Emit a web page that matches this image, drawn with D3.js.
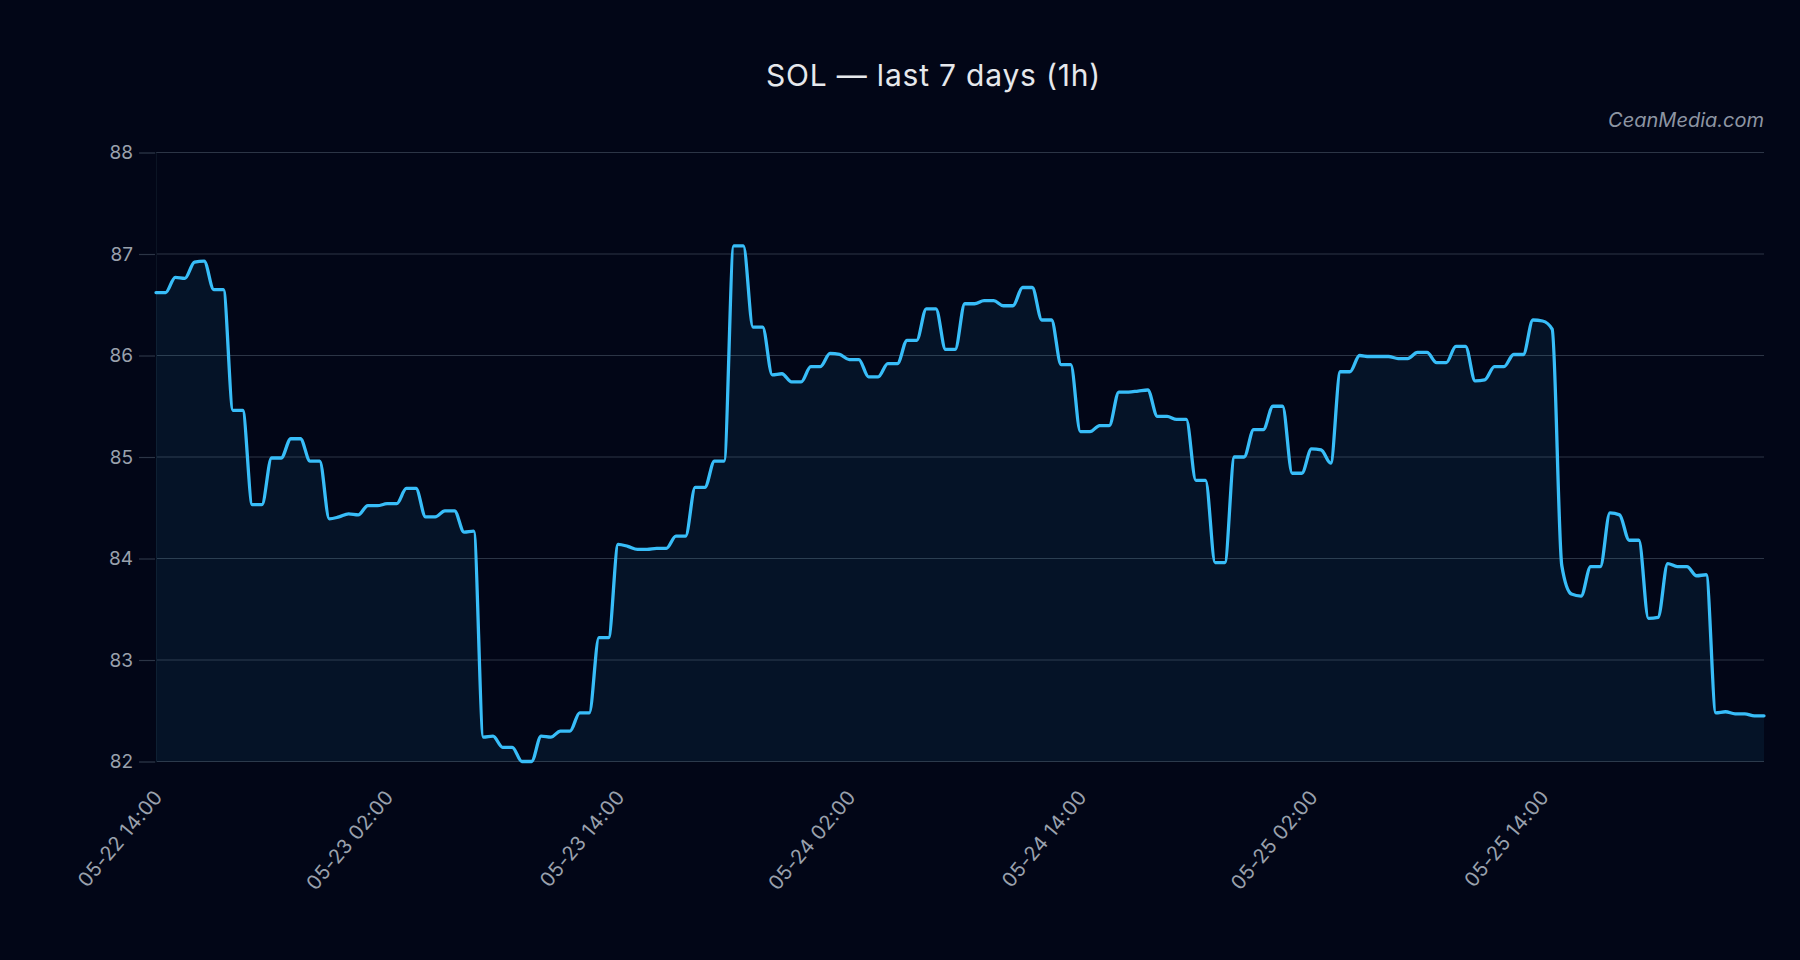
<!DOCTYPE html>
<html>
<head>
<meta charset="utf-8">
<script src="https://cdn.jsdelivr.net/npm/d3@7"></script>
<style>
  html, body { margin: 0; padding: 0; background: #020617; }
  svg { display: block; }
  text { font-family: Inter, "Noto Sans", sans-serif; }
</style>
</head>
<body>
<svg id="chart" width="1800" height="960"></svg>
<script>
// ---- data ----
const startTime = "2024-05-22T14:00:00Z";
const stepMinutes = 30;
const prices = [
  86.62, 86.62, 86.77, 86.76, 86.92, 86.93, 86.65, 86.65, 85.46, 85.46,
  84.53, 84.53, 84.99, 84.99, 85.18, 85.18, 84.96, 84.96, 84.39, 84.41,
  84.44, 84.43, 84.52, 84.52, 84.54, 84.54, 84.69, 84.69, 84.41, 84.41,
  84.47, 84.47, 84.26, 84.27, 82.24, 82.25, 82.14, 82.14, 82.00, 82.00,
  82.25, 82.24, 82.30, 82.30, 82.48, 82.48, 83.22, 83.22, 84.14, 84.12,
  84.09, 84.09, 84.10, 84.10, 84.22, 84.22, 84.70, 84.70, 84.96, 84.96,
  87.08, 87.08, 86.28, 86.28, 85.81, 85.82, 85.74, 85.74, 85.89, 85.89,
  86.02, 86.01, 85.96, 85.96, 85.79, 85.79, 85.92, 85.92, 86.15, 86.15,
  86.46, 86.46, 86.06, 86.06, 86.51, 86.51, 86.54, 86.54, 86.49, 86.49,
  86.67, 86.67, 86.35, 86.35, 85.91, 85.91, 85.25, 85.25, 85.31, 85.31,
  85.64, 85.64, 85.65, 85.66, 85.40, 85.40, 85.37, 85.37, 84.77, 84.77,
  83.96, 83.96, 85.00, 85.00, 85.27, 85.27, 85.50, 85.50, 84.84, 84.84,
  85.08, 85.07, 84.94, 85.84, 85.84, 86.00, 85.99, 85.99, 85.99, 85.97,
  85.97, 86.03, 86.03, 85.93, 85.93, 86.09, 86.09, 85.75, 85.76, 85.89,
  85.89, 86.01, 86.01, 86.35, 86.34, 86.26, 83.93, 83.65, 83.63, 83.92,
  83.92, 84.45, 84.43, 84.18, 84.18, 83.41, 83.42, 83.95, 83.92, 83.92,
  83.83, 83.84, 82.48, 82.49, 82.47, 82.47, 82.45, 82.45
];
const yTicks = [82, 83, 84, 85, 86, 87, 88];
const xTickTimes = [
  "2024-05-22T14:00:00Z", "2024-05-23T02:00:00Z", "2024-05-23T14:00:00Z",
  "2024-05-24T02:00:00Z", "2024-05-24T14:00:00Z", "2024-05-25T02:00:00Z",
  "2024-05-25T14:00:00Z"
];
const titleText = "SOL \u2014 last 7 days (1h)";
const watermark = "CeanMedia.com";

// ---- build ----
const t0 = new Date(startTime);
const data = prices.map((v, i) => ({ t: d3.utcMinute.offset(t0, i * stepMinutes), v }));

const W = 1800, H = 960;
const margin = { top: 152.5, right: 36, bottom: 198.5, left: 156 };
const iw = W - margin.left - margin.right;
const ih = H - margin.top - margin.bottom;

const svg = d3.select("#chart");
svg.append("rect").attr("width", W).attr("height", H).attr("fill", "#020617");

const x = d3.scaleUtc().domain(d3.extent(data, d => d.t)).range([0, iw]);
const y = d3.scaleLinear().domain([82, 88]).range([ih, 0]);

const g = svg.append("g").attr("transform", `translate(${margin.left},${margin.top})`);

// grid
g.append("g").selectAll("line").data(yTicks).join("line")
  .attr("x1", 0).attr("x2", iw)
  .attr("y1", d => y(d)).attr("y2", d => y(d))
  .attr("stroke", "#2c3546").attr("stroke-width", 1.2);

// y axis
const yAxis = g.append("g")
  .call(d3.axisLeft(y).tickValues(yTicks).tickFormat(d3.format("d")).tickSize(16).tickPadding(7));
yAxis.select(".domain").attr("stroke", "#0b1424");
yAxis.selectAll(".tick line").attr("stroke", "#2c3546").attr("stroke-width", 1.2).attr("transform", "translate(-1,0)");
yAxis.selectAll(".tick text").attr("fill", "#9aa1ad").attr("font-size", 19);

// x axis labels
const fmt = d3.utcFormat("%m-%d %H:%M");
const xAxis = g.append("g").attr("transform", `translate(0,${ih})`)
  .call(d3.axisBottom(x).tickValues(xTickTimes.map(s => new Date(s))).tickFormat(fmt).tickSize(0).tickPadding(0));
xAxis.select(".domain").remove();
xAxis.selectAll(".tick text")
  .attr("fill", "#9aa1ad").attr("font-size", 20).attr("letter-spacing", 0.3)
  .attr("text-anchor", "end")
  .attr("dy", 0).attr("y", 0)
  .attr("transform", "translate(7,36) rotate(-50)");

// area + line
const curve = d3.curveMonotoneX;
const area = d3.area().x(d => x(d.t)).y0(ih).y1(d => y(d.v)).curve(curve);
const line = d3.line().x(d => x(d.t)).y(d => y(d.v)).curve(curve);

g.append("path").datum(data).attr("d", area)
  .attr("fill", "#38bdf8").attr("fill-opacity", 0.075);
g.append("path").datum(data).attr("d", line)
  .attr("fill", "none").attr("stroke", "#38bdf8").attr("stroke-width", 3.3)
  .attr("stroke-linejoin", "round").attr("stroke-linecap", "round");

// title & watermark
svg.append("text").attr("x", 933.5).attr("y", 86)
  .attr("text-anchor", "middle").attr("fill", "#e6e8ec")
  .attr("font-size", 30).attr("letter-spacing", 0.8).text(titleText);
svg.append("text").attr("x", 1764).attr("y", 127)
  .attr("text-anchor", "end").attr("fill", "#8d95a3")
  .attr("font-size", 20).attr("font-style", "italic").text(watermark);
</script>
</body>
</html>
